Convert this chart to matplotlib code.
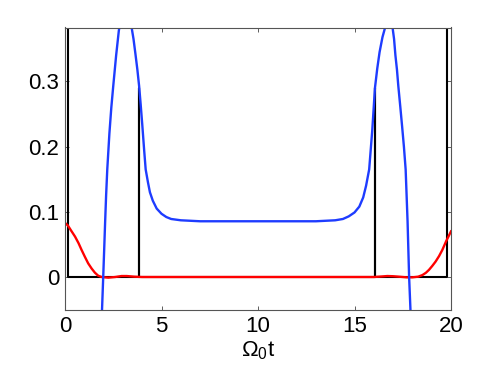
import matplotlib
matplotlib.use("Agg")
import matplotlib.pyplot as plt

plt.rcParams["font.family"] = ["Liberation Sans", "DejaVu Sans"]
plt.rcParams["mathtext.fontset"] = "custom"
plt.rcParams["mathtext.rm"] = "Liberation Sans"
plt.rcParams["mathtext.it"] = "Liberation Sans:italic"

# black: step-like spikes
black_t = [0.18, 0.18, 3.84, 3.84, 3.84, 16.08, 16.08, 16.08, 19.80, 19.80]
black_y = [0.60, 0.0, 0.0, 0.29, 0.0, 0.0, 0.29, 0.0, 0.0, 0.60]

# blue curve
blue_t = [1.90, 1.98, 2.03, 2.08, 2.13, 2.19, 2.30, 2.40, 2.50, 2.65, 2.79, 2.95,
          3.12, 3.30, 3.45, 3.55, 3.65, 3.75, 3.84, 3.92, 4.00, 4.10, 4.18, 4.30,
          4.40, 4.55, 4.75, 5.00, 5.25, 5.50, 6.00, 7.00, 10.00, 13.00, 14.00,
          14.40, 14.70, 15.00, 15.25, 15.45, 15.60, 15.76, 15.84, 15.92, 16.00,
          16.06, 16.18, 16.30, 16.45, 16.59, 16.78, 16.97, 17.05, 17.12, 17.20,
          17.27, 17.37, 17.47, 17.56, 17.65, 17.70, 17.75, 17.79, 17.83, 17.92]
blue_y = [-0.065, 0.0, 0.042, 0.085, 0.125, 0.165, 0.220, 0.260, 0.293, 0.340, 0.378, 0.405,
          0.415, 0.405, 0.383, 0.365, 0.342, 0.318, 0.293, 0.265, 0.235, 0.195, 0.165, 0.145,
          0.130, 0.117, 0.105, 0.097, 0.092, 0.089, 0.087, 0.0855, 0.0855, 0.0855, 0.087,
          0.089, 0.093, 0.099, 0.108, 0.122, 0.140, 0.165, 0.195, 0.225, 0.262,
          0.290, 0.320, 0.345, 0.368, 0.383, 0.398, 0.383, 0.365, 0.340, 0.318,
          0.293, 0.262, 0.230, 0.200, 0.165, 0.125, 0.085, 0.042, 0.0, -0.065]

# red curve
red_t = [0.0, 0.15, 0.30, 0.52, 0.70, 0.86, 1.03, 1.20, 1.38, 1.55, 1.72, 1.90,
         2.24, 2.60, 2.93, 3.20, 3.60, 4.00, 16.00, 16.40, 16.70, 17.00, 17.30,
         17.70, 18.00, 18.30, 18.52, 18.70, 18.86, 19.03, 19.20, 19.38, 19.55,
         19.75, 20.00]
red_y = [0.083, 0.079, 0.072, 0.062, 0.052, 0.0415, 0.031, 0.021, 0.013, 0.0066, 0.002, 0.0,
         -0.001, 0.0, 0.0015, 0.0015, 0.0005, 0.0, 0.0, 0.0008, 0.0015, 0.0012, 0.0005,
         -0.0005, -0.0005, 0.0005, 0.003, 0.0065, 0.011, 0.017, 0.0236, 0.032, 0.0415,
         0.055, 0.070]

fig = plt.figure(figsize=(4.98, 3.75), dpi=100)
ax = fig.add_axes([65 / 498, 65 / 375, 386 / 498, 282.5 / 375])

ax.plot(black_t, black_y, color="black", lw=1.5)
ax.plot(red_t, red_y, color="#ff0000", lw=1.7)
ax.plot(blue_t, blue_y, color="#1e3cff", lw=1.7)

ax.set_xlim(0, 20)
ax.set_ylim(-0.0506, 0.3827)
ax.set_xticks([0, 5, 10, 15, 20])
ax.set_yticks([0, 0.1, 0.2, 0.3])
ax.set_yticklabels(["0", "0.1", "0.2", "0.3"])
ax.tick_params(direction="in", length=3, width=0.6, labelsize=16,
               top=True, right=True, pad=4, colors="#444444", labelcolor="black")
for s in ax.spines.values():
    s.set_color("#555555")
    s.set_linewidth(0.8)

ax.set_xlabel(r"$\Omega_0$t", fontsize=16, labelpad=2)

fig.savefig("out.png", dpi=100)
